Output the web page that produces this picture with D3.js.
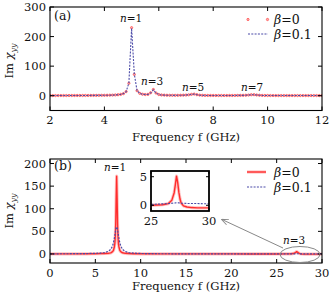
<!DOCTYPE html>
<html><head><meta charset="utf-8">
<script src="https://cdn.jsdelivr.net/npm/d3@7"></script>
<style>body{margin:0;background:#fff}svg{display:block}text{font-family:"DejaVu Serif",serif;fill:#111}</style>
</head><body>
<svg id="c" width="332" height="299"></svg>
<script>
// ---------- data ----------
// panel (a): frequency grid 2.0 .. 12.0 GHz, step 0.1
const freqA = d3.range(0, 101).map(i => +(2 + i * 0.1).toFixed(1));
const imA_beta0 = [
  0.5,0.5,0.5,0.6,0.6,0.6,0.6,0.7,0.7,0.7,0.8,
  0.8,0.8,0.9,0.9,1.0,1.0,1.1,1.2,1.3,1.4,
  1.6,1.8,2.1,2.6,3.3,4.5,7,14,42,230,
  72,17,8,5,4,4.5,10,21,9,4,
  2.5,2.0,1.6,1.4,1.3,1.3,1.4,1.5,1.8,2.2,
  3.0,4.5,5.5,3.5,2.0,1.3,1.0,0.9,0.8,0.8,
  0.7,0.7,0.7,0.7,0.7,0.8,0.8,0.9,1.0,1.1,
  1.3,1.6,2.2,3.2,3.5,2.4,1.5,1.0,0.8,0.7,
  0.6,0.6,0.5,0.5,0.5,0.5,0.5,0.5,0.5,0.5,
  0.5,0.5,0.5,0.5,0.5,0.5,0.5,0.5,0.5,0.5
];
const imA_beta01 = [
  0.5,0.5,0.5,0.6,0.6,0.6,0.6,0.7,0.7,0.7,0.8,
  0.8,0.8,0.9,0.9,1.0,1.0,1.1,1.2,1.3,1.4,
  1.6,1.8,2.1,2.6,3.3,4.6,7.2,14,43,228,
  73,17,8,5,4,4.5,9.5,20,9,4,
  2.5,2.0,1.6,1.4,1.3,1.3,1.4,1.5,1.8,2.2,
  3.0,4.4,5.3,3.5,2.0,1.3,1.0,0.9,0.8,0.8,
  0.7,0.7,0.7,0.7,0.7,0.8,0.8,0.9,1.0,1.1,
  1.3,1.6,2.2,3.1,3.4,2.4,1.5,1.0,0.8,0.7,
  0.6,0.6,0.5,0.5,0.5,0.5,0.5,0.5,0.5,0.5,
  0.5,0.5,0.5,0.5,0.5,0.5,0.5,0.5,0.5,0.5
];
// panel (b)
const freqB = [0,1,2,3,4,5,5.5,6,6.4,6.7,6.9,7.0,7.1,7.15,7.2,7.25,7.3,7.35,7.4,7.45,7.5,7.55,7.6,7.7,7.8,8.0,8.3,8.7,9.2,10,11,12,14,16,18,20,22,24,25,26,26.5,26.8,27.0,27.1,27.2,27.3,27.4,27.5,27.6,27.8,28.1,28.5,29,29.5,30];
const imB_beta0 = [0.1,0.1,0.15,0.2,0.3,0.5,0.7,1.0,1.3,2.5,5,8,16,23,38,67,124,172,124,67,38,23,16,8,5,2.6,1.4,0.9,0.6,0.4,0.3,0.2,0.15,0.1,0.1,0.1,0.05,0.0,0.0,0.1,0.3,0.9,2.2,3.6,5.1,4.0,2.3,1.1,0.4,-0.1,-0.3,-0.4,-0.45,-0.45,-0.45];
const imB_beta01 = [0.3,0.4,0.5,0.6,0.9,1.5,2.0,3.0,5.5,10,18,25,35,41,48,54,58,60,58,54,48,41,35,25,18,10,5.5,3,1.8,1.1,0.7,0.5,0.35,0.3,0.25,0.25,0.25,0.2,0.15,0.25,0.3,0.35,0.4,0.42,0.45,0.44,0.42,0.4,0.38,0.35,0.33,0.3,0.3,0.28,0.25];
const ticksAx = [2,4,6,8,10,12], ticksAy = [0,100,200,300];
const ticksBx = [0,5,10,15,20,25,30], ticksBy = [0,50,100,150,200];
const ticksIx = [25,30], ticksIy = [0,5];
const legendLabels = ["0", "0.1"];

// ---------- drawing ----------
const svg = d3.select("#c");
const RED = "#ff2d2d", BLUE = "#4a4aa8";

function frame(g, x, y, xt, yt, opts) {
  const [x0, x1] = x.range(), [y0, y1] = y.range();
  const tl = opts.tl || 4;
  const fs = opts.fs || 11.5;
  g.append("rect").attr("x", x0).attr("y", y1).attr("width", x1 - x0).attr("height", y0 - y1)
    .attr("fill", "none").attr("stroke", "#000").attr("stroke-width", opts.sw || 1.1);
  xt.forEach(t => {
    const px = x(t);
    g.append("line").attr("x1", px).attr("x2", px).attr("y1", y0).attr("y2", y0 - tl).attr("stroke", "#000");
    g.append("line").attr("x1", px).attr("x2", px).attr("y1", y1).attr("y2", y1 + tl).attr("stroke", "#000");
    if (opts.xlabels !== false) g.append("text").attr("x", px).attr("y", y0 + fs + 2).attr("text-anchor", "middle")
      .attr("font-size", fs).text(t);
  });
  yt.forEach(t => {
    const py = y(t);
    g.append("line").attr("x1", x0).attr("x2", x0 + tl).attr("y1", py).attr("y2", py).attr("stroke", "#000");
    g.append("line").attr("x1", x1).attr("x2", x1 - tl).attr("y1", py).attr("y2", py).attr("stroke", "#000");
    g.append("text").attr("x", x0 - 4).attr("y", py + fs * 0.36).attr("text-anchor", "end")
      .attr("font-size", fs).text(t);
  });
}

function ylabel(cx, cy) {
  const t = svg.append("text").attr("transform", `translate(${cx},${cy}) rotate(-90)`)
    .attr("text-anchor", "middle").attr("font-size", 11.5);
  t.append("tspan").text("Im ");
  t.append("tspan").attr("font-style", "italic").text("χ");
  t.append("tspan").attr("font-style", "italic").attr("font-size", 8).attr("dy", 3).text("yy");
}
function xlabel(cx, by) {
  svg.append("text").attr("x", cx).attr("y", by).attr("text-anchor", "middle").attr("font-size", 11.5)
    .text("Frequency f (GHz)");
}
function nlabel(cx, by, n, fs) {
  const t = svg.append("text").attr("x", cx).attr("y", by).attr("text-anchor", "middle").attr("font-size", fs || 10.5);
  t.append("tspan").attr("font-style", "italic").text("n");
  t.append("tspan").text("=" + n);
}
function betaText(x, y, v) {
  const t = svg.append("text").attr("x", x).attr("y", y).attr("font-size", 12.5);
  t.append("tspan").attr("font-style", "italic").text("β");
  t.append("tspan").text("=" + v);
}

// ---- panel (a)
const xa = d3.scaleLinear().domain([2, 12]).range([50, 322]);
const ya = d3.scaleLinear().domain([-50, 300]).range([110.5, 7]);
const ga = svg.append("g");
ga.append("clipPath").attr("id", "cpa").append("rect").attr("x", 50).attr("y", 7).attr("width", 272).attr("height", 103.5);
const pa = ga.append("g").attr("clip-path", "url(#cpa)");
const la = d3.line().x((d, i) => xa(freqA[i])).y(d => ya(d));
pa.selectAll("circle.m").data(imA_beta0).join("circle").attr("class", "m")
  .attr("cx", (d, i) => xa(freqA[i])).attr("cy", d => ya(d)).attr("r", 1.15)
  .attr("fill", "#ffb0b0").attr("stroke", RED).attr("stroke-width", 0.6);
pa.append("path").datum(imA_beta01).attr("d", la).attr("fill", "none").attr("stroke", BLUE)
  .attr("stroke-width", 1.1).attr("stroke-dasharray", "2,1.3");
frame(ga, xa, ya, ticksAx, ticksAy, {});
svg.append("text").attr("x", 54).attr("y", 20).attr("font-size", 12.5).text("(a)");
ylabel(13, 61);
xlabel(186, 141);
nlabel(131, 22, 1);
nlabel(152, 85, 3);
nlabel(193, 91, 5);
nlabel(252, 91, 7);
// legend (a)
[248, 267.5].forEach(px => svg.append("circle").attr("cx", px).attr("cy", 19.5).attr("r", 1.15)
  .attr("fill", "#ffb0b0").attr("stroke", RED).attr("stroke-width", 0.6));
svg.append("line").attr("x1", 248).attr("x2", 268).attr("y1", 34).attr("y2", 34).attr("stroke", BLUE)
  .attr("stroke-width", 1.1).attr("stroke-dasharray", "2,1.3");
betaText(274, 24, legendLabels[0]);
betaText(274, 38.5, legendLabels[1]);

// ---- panel (b)
const xb = d3.scaleLinear().domain([0, 30]).range([50, 322]);
const yb = d3.scaleLinear().domain([-20, 210]).range([263, 159]);
const gb = svg.append("g");
gb.append("clipPath").attr("id", "cpb").append("rect").attr("x", 50).attr("y", 159).attr("width", 272).attr("height", 104);
const pb = gb.append("g").attr("clip-path", "url(#cpb)");
const lb0 = d3.line().x((d, i) => xb(freqB[i])).y(d => yb(d));
pb.append("path").datum(imB_beta0).attr("d", lb0).attr("fill", "none").attr("stroke", "#ff9090")
  .attr("stroke-width", 3.2).attr("stroke-opacity", 0.55).attr("stroke-linejoin", "round");
pb.append("path").datum(imB_beta0).attr("d", lb0).attr("fill", "none").attr("stroke", RED)
  .attr("stroke-width", 1.4).attr("stroke-linejoin", "round");
pb.append("path").datum(imB_beta01).attr("d", lb0).attr("fill", "none").attr("stroke", BLUE)
  .attr("stroke-width", 1.2).attr("stroke-dasharray", "2,1.3");
frame(gb, xb, yb, ticksBx, ticksBy, {});
svg.append("text").attr("x", 54).attr("y", 170).attr("font-size", 12.5).text("(b)");
ylabel(13, 211);
xlabel(186, 290);
nlabel(115, 171, 1);
nlabel(294, 244, 3);
// legend (b)
svg.append("line").attr("x1", 247).attr("x2", 266).attr("y1", 172).attr("y2", 172).attr("stroke", "#ff9090")
  .attr("stroke-width", 3.2).attr("stroke-opacity", 0.55);
svg.append("line").attr("x1", 247).attr("x2", 266).attr("y1", 172).attr("y2", 172).attr("stroke", RED).attr("stroke-width", 1.4);
svg.append("line").attr("x1", 247).attr("x2", 266).attr("y1", 187).attr("y2", 187).attr("stroke", BLUE)
  .attr("stroke-width", 1.1).attr("stroke-dasharray", "2,1.3");
betaText(274, 176.5, legendLabels[0]);
betaText(274, 191.5, legendLabels[1]);

// ellipse + arrow
svg.append("ellipse").attr("cx", 300).attr("cy", 254.5).attr("rx", 20).attr("ry", 8)
  .attr("fill", "none").attr("stroke", "#888").attr("stroke-width", 1);
svg.append("defs").append("marker").attr("id", "ah").attr("viewBox", "0 0 10 10").attr("refX", 9).attr("refY", 5)
  .attr("markerWidth", 7).attr("markerHeight", 7).attr("orient", "auto")
  .append("path").attr("d", "M0,1 L10,5 L0,9").attr("fill", "none").attr("stroke", "#888").attr("stroke-width", 1.3);
svg.append("line").attr("x1", 283).attr("y1", 248).attr("x2", 222).attr("y2", 219.5)
  .attr("stroke", "#888").attr("stroke-width", 1).attr("marker-end", "url(#ah)");

// ---- inset
const xi = d3.scaleLinear().domain([25, 30]).range([151, 209]);
const yi = d3.scaleLinear().domain([-1, 6]).range([211, 171]);
const gi = svg.append("g");
gi.append("rect").attr("x", 151).attr("y", 171).attr("width", 58).attr("height", 40).attr("fill", "#fff");
gi.append("clipPath").attr("id", "cpi").append("rect").attr("x", 151).attr("y", 171).attr("width", 58).attr("height", 40);
const pi = gi.append("g").attr("clip-path", "url(#cpi)");
const li = d3.line().x((d, i) => xi(freqB[i])).y(d => yi(d));
pi.append("path").datum(imB_beta0).attr("d", li).attr("fill", "none").attr("stroke", "#ff9090")
  .attr("stroke-width", 3.2).attr("stroke-opacity", 0.55).attr("stroke-linejoin", "round");
pi.append("path").datum(imB_beta0).attr("d", li).attr("fill", "none").attr("stroke", RED)
  .attr("stroke-width", 1.4).attr("stroke-linejoin", "round");
pi.append("path").datum(imB_beta01).attr("d", li).attr("fill", "none").attr("stroke", BLUE)
  .attr("stroke-width", 1.1).attr("stroke-dasharray", "2,1.3");
frame(gi, xi, yi, ticksIx, ticksIy, { sw: 1.8, tl: 3 });
</script>
</body></html>
